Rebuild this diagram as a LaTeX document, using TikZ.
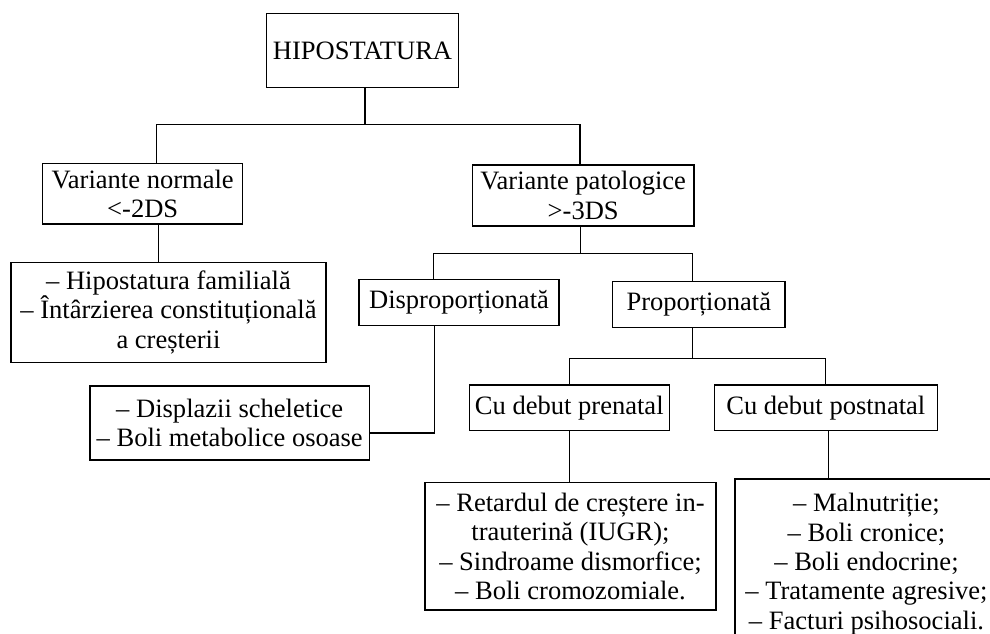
\documentclass[tikz,border=0pt]{standalone}
\usepackage{fontspec}
\setmainfont{Liberation Serif}

\begin{document}
\begin{tikzpicture}[x=0.75pt,y=0.75pt,yscale=-1,xscale=1,
  font=\fontsize{19.9}{22}\selectfont,
  box/.style={draw, line width=0.9pt, inner sep=0pt, align=center},
  link/.style={line width=0.9pt}]
\useasboundingbox (0,0) rectangle (990,634);
\clip (0,0) rectangle (990,634);

% Boxes
\node [box, minimum width=143.7pt, minimum height=55.5pt] (hip) at (362.5,50.7) {HIPOSTATURA};
\node [box, minimum width=150pt, minimum height=45.5pt] (norm) at (142.7,193.7) {Variante normale\\<-2DS};
\node [box, minimum width=166.3pt, minimum height=45.8pt] (pat) at (583.2,195.5) {Variante patologice\\>-3DS};
\node [box, minimum width=236.3pt, minimum height=75pt] (fam) at (168.5,312.3) {– Hipostatura familială\\– Întârzierea constituțională\\a creșterii};
\node [box, minimum width=150pt, minimum height=34.5pt] (disp) at (459,302.3) {Disproporționată};
\node [box, minimum width=129.2pt, minimum height=34.5pt] (prop) at (698.8,304.7) {Proporționată};
\node [box, minimum width=209.5pt, minimum height=55.5pt] (schel) at (229.7,423) {– Displazii scheletice\\– Boli metabolice osoase};
\node [box, minimum width=150pt, minimum height=34.3pt] (pre) at (569.3,407.9) {Cu debut prenatal};
\node [box, minimum width=167.3pt, minimum height=34.3pt] (post) at (825.8,407.9) {Cu debut postnatal};
\node [box, minimum width=218.3pt, minimum height=95.5pt] (prelist) at (570.5,546.4) {– Retardul de creștere in-\\trauterină (IUGR);\\– Sindroame dismorfice;\\– Boli cromozomiale.};
\node [box, minimum width=197.3pt, minimum height=127.5pt] (postlist) at (866.5,564) {– Malnutriție;\\– Boli cronice;\\– Boli endocrine;\\– Tratamente agresive;\\– Facturi psihosociali.};

% Connectors
\draw [link] ([xshift=1.9pt]hip.south) -- ++(0,36.3) coordinate (j1);
\draw [link] ([xshift=10.5pt]norm.north) |- (j1) -| ([xshift=-2.4pt]pat.north);
\draw [link] ([xshift=12pt]norm.south) -- ([xshift=12pt]norm.south |- fam.north);
\draw [link] ([xshift=-2pt]pat.south) -- ++(0,26.7) coordinate (j2);
\draw [link] ([xshift=-19.3pt]disp.north) |- (j2) -| ([xshift=-4.6pt]prop.north);
\draw [link] ([xshift=-18.5pt]disp.south) |- ([yshift=7.5pt]schel.east);
\draw [link] ([xshift=-4.6pt]prop.south) -- ++(0,30) coordinate (j3);
\draw [link] (pre.north) |- (j3) -| (post.north);
\draw [link] (pre.south) -- (pre.south |- prelist.north);
\draw [link] ([xshift=1.9pt]post.south) -- ([xshift=1.9pt]post.south |- postlist.north);

\end{tikzpicture}
\end{document}
